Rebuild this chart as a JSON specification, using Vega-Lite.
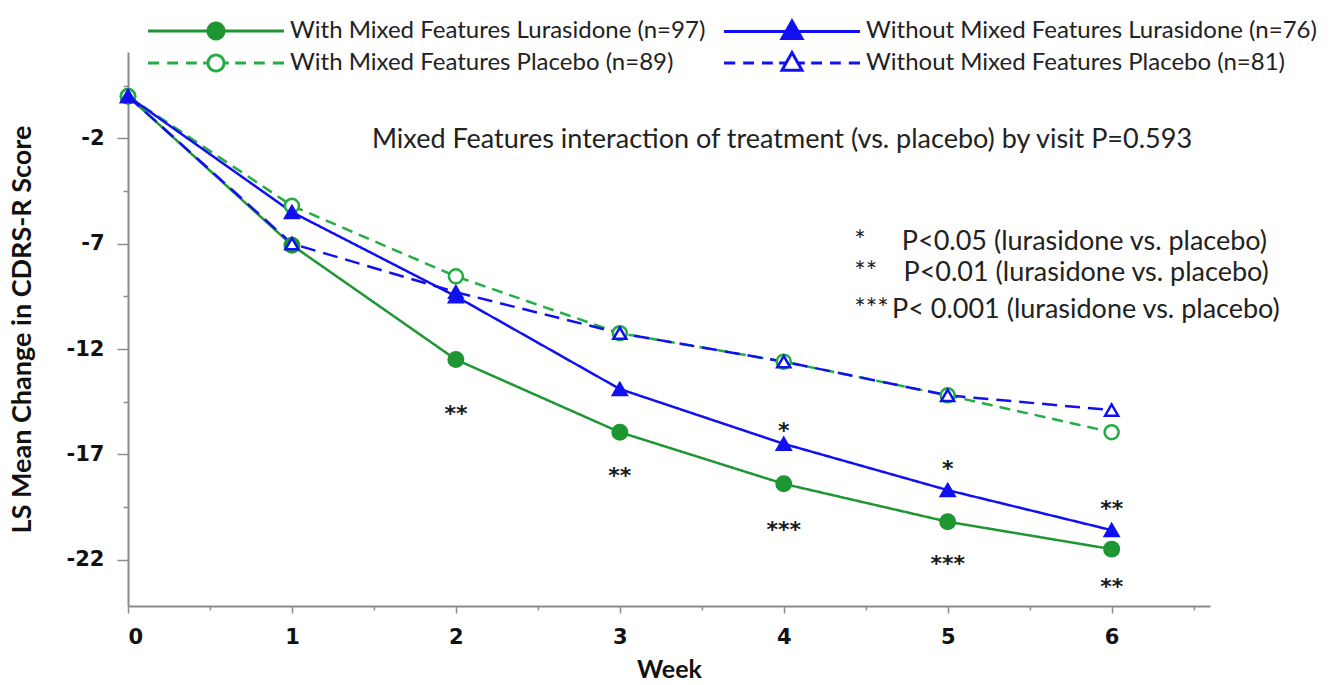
{
  "$schema": "https://vega.github.io/schema/vega-lite/v6.json",
  "width": 1082,
  "height": 554,
  "autosize": {"type": "none"},
  "padding": {"left": 128, "top": 52, "right": 123, "bottom": 79},
  "background": "white",
  "config": {"view": {"stroke": null}},
  "datasets": {
    "curves": [
      {"series": "With Mixed Features Lurasidone (n=97)", "week": 0, "score": 0},
      {"series": "With Mixed Features Lurasidone (n=97)", "week": 1, "score": -7.07},
      {"series": "With Mixed Features Lurasidone (n=97)", "week": 2, "score": -12.5},
      {"series": "With Mixed Features Lurasidone (n=97)", "week": 3, "score": -15.95},
      {"series": "With Mixed Features Lurasidone (n=97)", "week": 4, "score": -18.4},
      {"series": "With Mixed Features Lurasidone (n=97)", "week": 5, "score": -20.2},
      {"series": "With Mixed Features Lurasidone (n=97)", "week": 6, "score": -21.5},
      {"series": "With Mixed Features Placebo (n=89)", "week": 0, "score": 0},
      {"series": "With Mixed Features Placebo (n=89)", "week": 1, "score": -5.2},
      {"series": "With Mixed Features Placebo (n=89)", "week": 2, "score": -8.55},
      {"series": "With Mixed Features Placebo (n=89)", "week": 3, "score": -11.25},
      {"series": "With Mixed Features Placebo (n=89)", "week": 4, "score": -12.6},
      {"series": "With Mixed Features Placebo (n=89)", "week": 5, "score": -14.2},
      {"series": "With Mixed Features Placebo (n=89)", "week": 6, "score": -15.95},
      {"series": "Without Mixed Features Placebo (n=81)", "week": 0, "score": 0},
      {"series": "Without Mixed Features Placebo (n=81)", "week": 1, "score": -7.0},
      {"series": "Without Mixed Features Placebo (n=81)", "week": 2, "score": -9.3},
      {"series": "Without Mixed Features Placebo (n=81)", "week": 3, "score": -11.25},
      {"series": "Without Mixed Features Placebo (n=81)", "week": 4, "score": -12.6},
      {"series": "Without Mixed Features Placebo (n=81)", "week": 5, "score": -14.2},
      {"series": "Without Mixed Features Placebo (n=81)", "week": 6, "score": -14.9},
      {"series": "Without Mixed Features Lurasidone (n=76)", "week": 0, "score": 0},
      {"series": "Without Mixed Features Lurasidone (n=76)", "week": 1, "score": -5.5},
      {"series": "Without Mixed Features Lurasidone (n=76)", "week": 2, "score": -9.5},
      {"series": "Without Mixed Features Lurasidone (n=76)", "week": 3, "score": -13.9},
      {"series": "Without Mixed Features Lurasidone (n=76)", "week": 4, "score": -16.5},
      {"series": "Without Mixed Features Lurasidone (n=76)", "week": 5, "score": -18.7},
      {"series": "Without Mixed Features Lurasidone (n=76)", "week": 6, "score": -20.6}
    ],
    "stars": [
      {"week": 2, "score": -14.8, "label": "**"},
      {"week": 3, "score": -17.75, "label": "**"},
      {"week": 4, "score": -15.6, "label": "*"},
      {"week": 4, "score": -20.3, "label": "***"},
      {"week": 5, "score": -17.4, "label": "*"},
      {"week": 5, "score": -21.9, "label": "***"},
      {"week": 6, "score": -19.3, "label": "**"},
      {"week": 6, "score": -23.0, "label": "**"}
    ],
    "notes": [
      {"week": 1.488, "score": -2.1, "label": "Mixed Features interaction of treatment (vs. placebo) by visit P=0.593"},
      {"week": 4.43, "score": -6.93, "label": "*"},
      {"week": 4.43, "score": -8.4, "label": "**"},
      {"week": 4.43, "score": -10.16, "label": "***"},
      {"week": 4.72, "score": -6.93, "label": "P<0.05 (lurasidone vs. placebo)"},
      {"week": 4.73, "score": -8.4, "label": "P<0.01 (lurasidone vs. placebo)"},
      {"week": 4.66, "score": -10.16, "label": "P< 0.001 (lurasidone vs. placebo)"}
    ]
  },
  "layer": [
    {
      "data": {"name": "curves"},
      "mark": {"type": "line", "strokeWidth": 2.5},
      "encoding": {
        "x": {
          "field": "week", "type": "quantitative",
          "scale": {"domain": [0, 6.6], "nice": false, "zero": false},
          "axis": {
            "title": "Week", "titleFont": "Lato", "titleFontSize": 25, "titleFontWeight": "bold", "titleColor": "#111", "titlePadding": 10,
            "values": [0, 0.5, 1, 1.5, 2, 2.5, 3, 3.5, 4, 4.5, 5, 5.5, 6, 6.5],
            "labelExpr": "datum.value % 1 === 0 ? '' + datum.value : ''",
            "labelFont": "DejaVu Sans", "labelFontSize": 21, "labelFontWeight": "bold", "labelColor": "#111", "labelPadding": 13,
            "tickSize": {"condition": {"test": "datum.value % 1 === 0", "value": 7}, "value": 4},
            "tickColor": "#8c8c8c", "tickWidth": 1.5, "domainColor": "#8c8c8c", "domainWidth": 2, "grid": false
          }
        },
        "y": {
          "field": "score", "type": "quantitative",
          "scale": {"domain": [-24.2, 2.1], "nice": false, "zero": false},
          "axis": {
            "title": "LS Mean Change in CDRS-R Score", "titleFont": "Lato", "titleFontSize": 27, "titleFontWeight": "bold", "titleColor": "#111", "titlePadding": 30,
            "values": [-22, -19.5, -17, -14.5, -12, -9.5, -7, -4.5, -2, 0.5],
            "labelExpr": "datum.value % 1 === 0 ? '' + datum.value : ''",
            "labelFont": "DejaVu Sans", "labelFontSize": 21, "labelFontWeight": "bold", "labelColor": "#111", "labelPadding": 13,
            "tickSize": {"condition": {"test": "datum.value % 1 === 0", "value": 11}, "value": 5},
            "tickColor": "#8c8c8c", "tickWidth": 1.5, "domainColor": "#8c8c8c", "domainWidth": 2, "grid": false
          }
        },
        "stroke": {
          "field": "series", "type": "nominal",
          "scale": {
            "domain": ["With Mixed Features Lurasidone (n=97)", "With Mixed Features Placebo (n=89)", "Without Mixed Features Lurasidone (n=76)", "Without Mixed Features Placebo (n=81)"],
            "range": ["#1e9632", "#22ad45", "#1010f0", "#1010f0"]
          },
          "legend": {
            "orient": "none", "legendX": 76, "legendY": -33, "columns": 2, "columnPadding": 12, "rowPadding": 1, "title": null,
            "labelFont": "Lato", "labelFontSize": 24, "labelColor": "#222", "labelLimit": 700, "labelOffset": 62,
            "symbolSize": 256, "symbolStrokeWidth": 3, "symbolFillColor": "transparent", "symbolDash": [1, 0],
            "symbolType": {"expr": "datum.value === 'With Mixed Features Lurasidone (n=97)' ? 'M-8.5,0H8.5M-1,0A1,1 0 1,0 1,0A1,1 0 1,0 -1,0ZM-0.66,0A0.66,0.66 0 1,0 0.66,0A0.66,0.66 0 1,0 -0.66,0ZM-0.33,0A0.33,0.33 0 1,0 0.33,0A0.33,0.33 0 1,0 -0.33,0ZM-0.06,0A0.06,0.06 0 1,0 0.06,0A0.06,0.06 0 1,0 -0.06,0Z' : datum.value === 'Without Mixed Features Lurasidone (n=76)' ? 'M-8.5,0H8.5M0,-1.3L1.25,0.9L-1.25,0.9ZM0,-0.8L0.825,0.651L-0.825,0.651ZM0,-0.317L0.41,0.409L-0.41,0.409ZM0,0.05L0.1,0.226L-0.1,0.226Z' : datum.value === 'With Mixed Features Placebo (n=89)' ? 'M-8.5,0H-7.1M-6.1,0H-4.75M-3.75,0H-2.4M-1.6,0H-1M1,0H1.6M2.4,0H3.75M4.75,0H6.1M7.1,0H8.5M-1,0A1,1 0 1,0 1,0A1,1 0 1,0 -1,0Z' : 'M-8.5,0H-7.1M-6.1,0H-4.75M-3.75,0H-2.4M-1.6,0H-0.74M0.74,0H1.6M2.4,0H3.75M4.75,0H6.1M7.1,0H8.5M0,-1.3L1.25,0.9L-1.25,0.9Z'"}
          }
        },
        "strokeDash": {
          "field": "series", "type": "nominal",
          "scale": {"range": [[1, 0], [11, 7], [1, 0], [15, 8]]},
          "legend": null
        }
      }
    },
    {
      "data": {"name": "curves"},
      "mark": {"type": "point", "filled": true, "strokeWidth": 2.5, "opacity": 1},
      "encoding": {
        "x": {"field": "week", "type": "quantitative"},
        "y": {"field": "score", "type": "quantitative"},
        "stroke": {
          "field": "series", "type": "nominal",
          "scale": {
            "domain": ["With Mixed Features Lurasidone (n=97)", "With Mixed Features Placebo (n=89)", "Without Mixed Features Lurasidone (n=76)", "Without Mixed Features Placebo (n=81)"],
            "range": ["#1e9632", "#22ad45", "#1010f0", "#1010f0"]
          },
          "legend": null
        },
        "fill": {
          "field": "series", "type": "nominal",
          "scale": {"range": ["#1e9632", "white", "#1010f0", "white"]},
          "legend": null
        },
        "shape": {
          "field": "series", "type": "nominal",
          "scale": {"range": ["circle", "circle", "triangle-up", "triangle-up"]},
          "legend": null
        },
        "size": {
          "field": "series", "type": "nominal",
          "scale": {"range": [210, 170, 320, 320]},
          "legend": null
        }
      }
    },
    {
      "data": {"name": "stars"},
      "mark": {"type": "text", "font": "DejaVu Sans", "fontSize": 22, "fontWeight": "bold", "color": "#1a1a1a", "align": "center", "baseline": "middle", "dy": 6},
      "encoding": {
        "x": {"field": "week", "type": "quantitative"},
        "y": {"field": "score", "type": "quantitative"},
        "text": {"field": "label"}
      }
    },
    {
      "data": {"name": "notes"},
      "mark": {"type": "text", "font": "Lato", "fontSize": 27, "color": "#222", "align": "left", "baseline": "middle"},
      "encoding": {
        "x": {"field": "week", "type": "quantitative"},
        "y": {"field": "score", "type": "quantitative"},
        "text": {"field": "label"}
      }
    }
  ]
}
